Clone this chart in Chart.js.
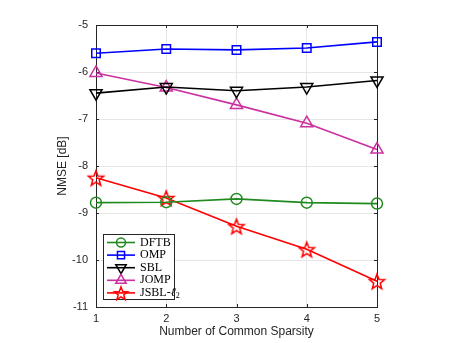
<!DOCTYPE html>
<html>
<head>
<meta charset="utf-8">
<script src="https://cdn.jsdelivr.net/npm/chart.js@4.4.0/dist/chart.umd.min.js"></script>
<style>
  html, body { margin: 0; padding: 0; background: #fff; }
  #wrap { width: 457px; height: 343px; }
</style>
</head>
<body>
<div id="wrap"><canvas id="nmse" width="457" height="343"></canvas></div>
<script>
// data
const sparsity = [1, 2, 3, 4, 5];
const dftb = [-8.78, -8.77, -8.70, -8.78, -8.80];
const omp  = [-5.60, -5.51, -5.53, -5.49, -5.36];
const sbl  = [-6.45, -6.32, -6.40, -6.32, -6.18];
const jomp = [-6.02, -6.33, -6.70, -7.09, -7.65];
const jsbl = [-8.25, -8.68, -9.28, -9.77, -10.45];
const yTicks = [-5, -6, -7, -8, -9, -10, -11];

// five-point star marker (chart.js "star" is an asterisk)
function makeStar(color, r) {
    const c = document.createElement("canvas");
    const s = Math.ceil(r * 2 + 4);
    c.width = s; c.height = s;
    const g = c.getContext("2d");
    g.strokeStyle = color;
    g.lineWidth = 1.5;
    g.beginPath();
    for (let i = 0; i < 10; i++) {
        const rad = i % 2 === 0 ? r : r * 0.42;
        const a = -Math.PI / 2 + i * Math.PI / 5;
        const px = s / 2 + rad * Math.cos(a), py = s / 2 + 1 + rad * Math.sin(a);
        if (i === 0) g.moveTo(px, py); else g.lineTo(px, py);
    }
    g.closePath();
    g.stroke();
    return c;
}
const starImg = makeStar("#ff0000", 8);
const starSmall = makeStar("#ff0000", 7);

function series(label, data, color, style, extra) {
    return Object.assign({
        label: label,
        data: data,
        borderColor: color,
        backgroundColor: "rgba(0,0,0,0)",
        pointBorderColor: color,
        pointBackgroundColor: "rgba(0,0,0,0)",
        borderWidth: 1.6,
        pointBorderWidth: 1.5,
        pointStyle: style,
        pointRadius: 6,
        tension: 0,
        clip: false
    }, extra || {});
}

const datasets = [
    series("DFTB", dftb, "#1f8a1f", "circle", { pointRadius: 5.5 }),
    series("OMP", omp, "#0000ff", "rect", { pointRadius: 6 }),
    series("SBL", sbl, "#000000", "triangle", { pointRadius: 7, pointRotation: 180 }),
    series("JOMP", jomp, "#cc2fa0", "triangle", { pointRadius: 7 }),
    series("JSBL-ℓ2", jsbl, "#ff0000", starImg)
];

// MATLAB style frame, inward ticks and legend with line through marker
const matlabLook = {
    id: "matlabLook",
    beforeDatasetsDraw(chart) {
        const ctx = chart.ctx;
        const a = chart.chartArea;
        const xs = chart.scales.x, ys = chart.scales.y;
        ctx.save();
        ctx.strokeStyle = "#262626";
        ctx.lineWidth = 1;
        ctx.strokeRect(Math.round(a.left) + 0.5, Math.round(a.top) + 0.5,
            Math.round(a.right - a.left), Math.round(a.bottom - a.top));
        ctx.beginPath();
        sparsity.forEach(v => {
            const px = Math.round(xs.getPixelForValue(v)) + 0.5;
            ctx.moveTo(px, a.bottom); ctx.lineTo(px, a.bottom - 3);
            ctx.moveTo(px, a.top); ctx.lineTo(px, a.top + 3);
        });
        yTicks.forEach(v => {
            const py = Math.round(ys.getPixelForValue(v)) + 0.5;
            ctx.moveTo(a.left, py); ctx.lineTo(a.left + 3, py);
            ctx.moveTo(a.right, py); ctx.lineTo(a.right - 3, py);
        });
        ctx.stroke();
        ctx.restore();
    },
    afterDraw(chart) {
        const ctx = chart.ctx;
        const a = chart.chartArea;
        ctx.save();
        // legend box
        const bx = a.left + 7, by = a.bottom - 73, bw = 71, bh = 65, row = 12.6;
        ctx.fillStyle = "#fff";
        ctx.fillRect(bx, by, bw, bh);
        ctx.strokeStyle = "#262626";
        ctx.lineWidth = 1;
        ctx.strokeRect(bx + 0.5, by + 0.5, bw, bh);
        ctx.textBaseline = "middle";
        chart.data.datasets.forEach((ds, i) => {
            const y = by + 8.5 + i * row;
            ctx.strokeStyle = ds.borderColor;
            ctx.lineWidth = 1.6;
            ctx.beginPath();
            ctx.moveTo(bx + 4, y); ctx.lineTo(bx + 32, y);
            ctx.stroke();
            ctx.fillStyle = "rgba(0,0,0,0)";
            ctx.lineWidth = 1.5;
            Chart.helpers.drawPoint(ctx, {
                pointStyle: i === 4 ? starSmall : ds.pointStyle,
                rotation: ds.pointRotation || 0,
                radius: ds.pointRadius - 1,
                borderWidth: 1.5
            }, bx + 18, y);
            ctx.fillStyle = "#000";
            ctx.font = "12px 'Liberation Serif', serif";
            if (i === 4) {
                ctx.fillText("JSBL-", bx + 37, y);
                const w = ctx.measureText("JSBL-").width;
                ctx.font = "italic 12px 'Liberation Serif', serif";
                ctx.fillText("ℓ", bx + 37 + w, y);
                const w2 = ctx.measureText("ℓ").width;
                ctx.font = "8px 'Liberation Serif', serif";
                ctx.fillText("2", bx + 37 + w + w2, y + 3);
            } else {
                ctx.fillText(ds.label, bx + 37, y);
            }
        });
        ctx.restore();
    }
};

new Chart(document.getElementById("nmse").getContext("2d"), {
    type: "line",
    data: { labels: sparsity, datasets: datasets },
    options: {
        responsive: false,
        animation: false,
        layout: { padding: { left: 55, top: 25, right: 80, bottom: 0 } },
        plugins: { legend: { display: false }, tooltip: { enabled: false } },
        scales: {
            x: {
                type: "linear",
                min: 1, max: 5,
                afterFit: s => { s.height = 36; },
                afterBuildTicks: s => { s.ticks = sparsity.map(v => ({ value: v })); },
                grid: { color: "#e6e6e6", drawTicks: false },
                border: { display: false },
                ticks: { color: "#262626", padding: 5, font: { family: "'Liberation Sans', Arial", size: 11 } },
                title: { display: true, text: "Number of Common Sparsity", color: "#262626", padding: { top: 2 },
                    font: { family: "'Liberation Sans', Arial", size: 12 } }
            },
            y: {
                min: -11, max: -5,
                afterFit: s => { s.width = 41; },
                afterBuildTicks: s => { s.ticks = yTicks.map(v => ({ value: v })); },
                grid: { color: "#e6e6e6", drawTicks: false },
                border: { display: false },
                ticks: { color: "#262626", padding: 8, font: { family: "'Liberation Sans', Arial", size: 11 } },
                title: { display: true, text: "NMSE [dB]", color: "#262626", padding: 0,
                    font: { family: "'Liberation Sans', Arial", size: 12 } }
            }
        }
    },
    plugins: [matlabLook]
});
</script>
</body>
</html>
